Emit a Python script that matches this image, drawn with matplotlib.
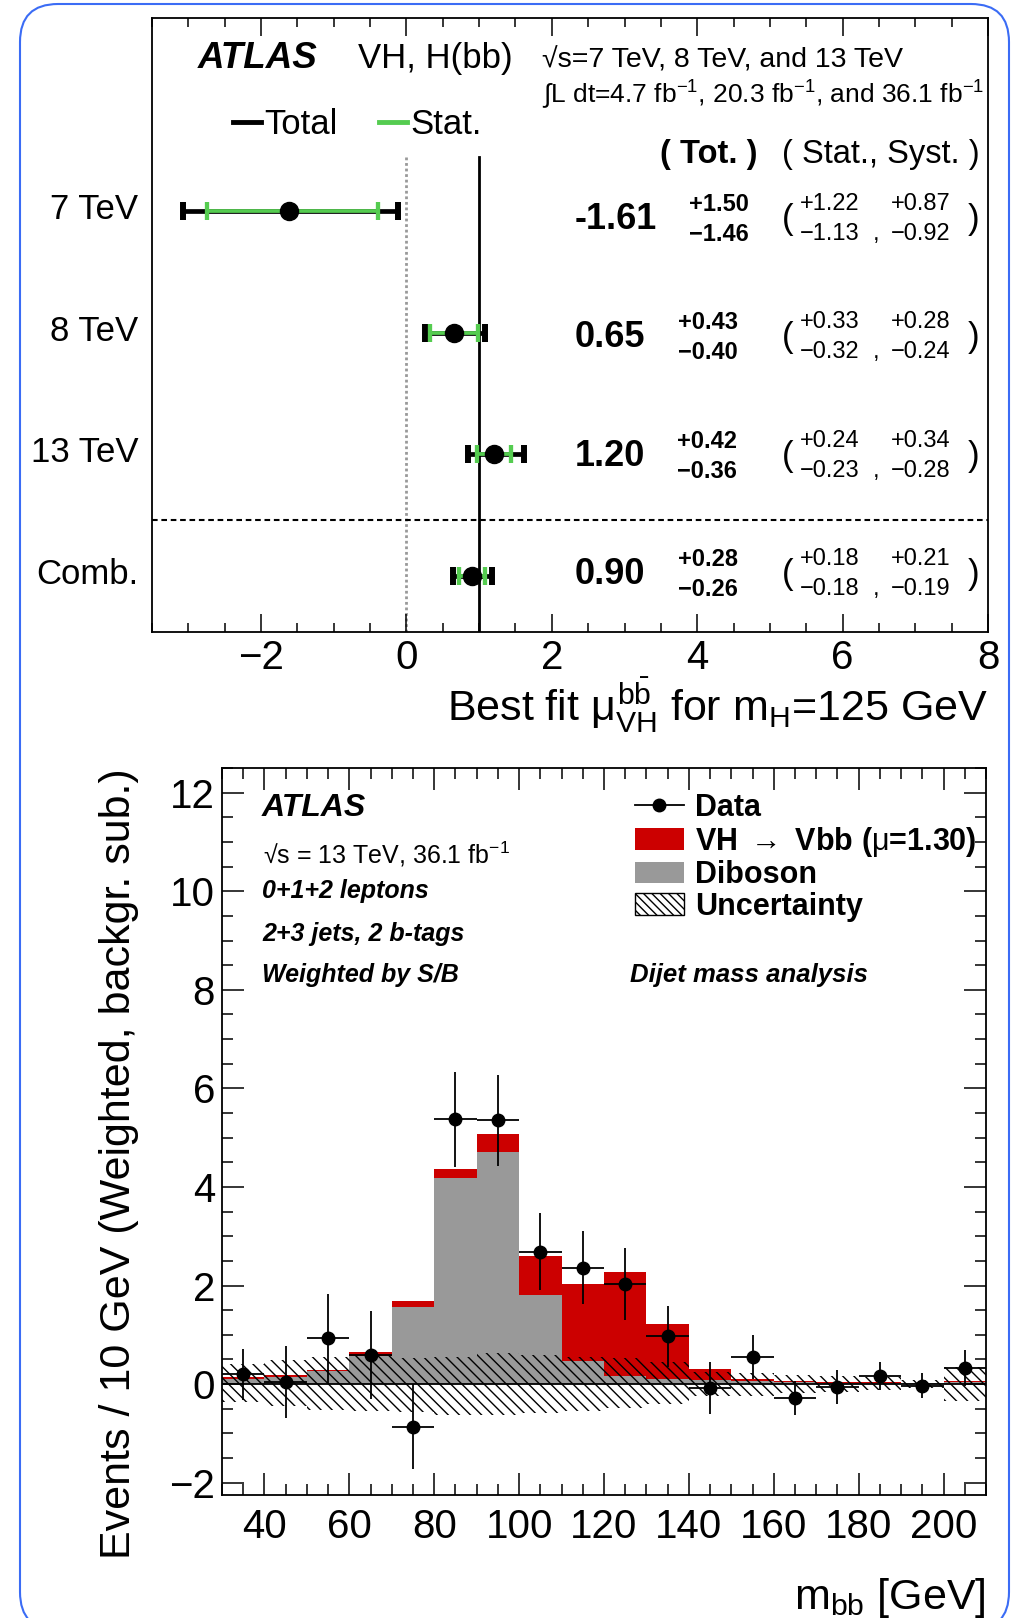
import numpy as np
import matplotlib.pyplot as plt
from matplotlib.lines import Line2D
from matplotlib.patches import Patch, FancyBboxPatch
from matplotlib.ticker import MultipleLocator
from matplotlib.transforms import IdentityTransform, ScaledTranslation

plt.rcParams["font.family"] = ["Liberation Sans", "DejaVu Sans"]
plt.rcParams["mathtext.fontset"] = "custom"
plt.rcParams["mathtext.rm"] = "Liberation Sans"
plt.rcParams["mathtext.it"] = "Liberation Sans"
plt.rcParams["mathtext.bf"] = "Liberation Sans:bold"
plt.rcParams["hatch.linewidth"] = 1.0

# ---- top panel: signal strength per energy
labels = ["7 TeV", "8 TeV", "13 TeV", "Comb."]
mu = [-1.61, 0.65, 1.20, 0.90]
tot_up = [1.50, 0.43, 0.42, 0.28]
tot_dn = [1.46, 0.40, 0.36, 0.26]
stat_up = [1.22, 0.33, 0.24, 0.18]
stat_dn = [1.13, 0.32, 0.23, 0.18]
syst_up = [0.87, 0.28, 0.34, 0.21]
syst_dn = [0.92, 0.24, 0.28, 0.19]
mu_sm = 1.0

# ---- bottom panel: background-subtracted mbb
bin_edges = np.arange(30, 211, 10)
diboson = [0.11, 0.15, 0.26, 0.58, 1.57, 4.18, 4.70, 1.81, 0.46,
           0.16, 0.10, 0.08, 0.06, 0.04, 0.03, 0.03, 0.02, 0.05]
vh = [0.03, 0.03, 0.03, 0.08, 0.11, 0.18, 0.37, 0.78, 1.58,
      2.12, 1.12, 0.22, 0.04, 0.02, 0.02, 0.01, 0.01, 0.02]
unc_up = [0.40, 0.48, 0.56, 0.59, 0.53, 0.56, 0.63, 0.59, 0.55,
          0.53, 0.45, 0.24, 0.22, 0.19, 0.17, 0.14, 0.09, 0.34]
unc_dn = [0.37, 0.45, 0.53, 0.55, 0.57, 0.62, 0.62, 0.59, 0.55,
          0.49, 0.40, 0.24, 0.25, 0.18, 0.15, 0.11, 0.08, 0.35]
data = [0.20, 0.05, 0.93, 0.59, -0.86, 5.37, 5.35, 2.69, 2.36,
        2.04, 0.97, -0.08, 0.55, -0.28, -0.06, 0.16, -0.03, 0.33]
data_err = [0.52, 0.73, 0.90, 0.90, 0.87, 0.97, 0.92, 0.79, 0.74,
            0.73, 0.62, 0.52, 0.45, 0.35, 0.35, 0.28, 0.25, 0.37]

green = "#55cc50"
red = "#cc0000"
grey = "#999999"

fig = plt.figure(figsize=(10.12, 16.18), dpi=100)

# =================== top panel ===================
ax1 = fig.add_axes([0.1502, 0.6094, 0.8261, 0.3795])
rows = np.arange(len(mu), 0, -1)
text_rows = [3.93, 2.96, 1.985, 1.015]   # where the number columns sit
ylo, yhi = 0.54, 5.585
ax1.set_xlim(-3.5, 8)
ax1.set_ylim(ylo, yhi)

line_top = (4.44 - ylo) / (yhi - ylo)
ax1.axvline(mu_sm, ymax=line_top, color="black", lw=2, zorder=2)
ax1.axvline(0, ymax=line_top, color="#999999", lw=2, ls=(0, (1, 1)), zorder=1)
ax1.axhline(1.46, color="black", lw=1.5, ls=(0, (2.7, 1.8)), zorder=1)

ax1.errorbar(mu, rows, xerr=[tot_dn, tot_up], fmt="none", ecolor="black",
             elinewidth=3.4, capsize=6.7, capthick=4.3, zorder=3)
ax1.errorbar(mu, rows, xerr=[stat_dn, stat_up], fmt="none", ecolor=green,
             elinewidth=2.7, capsize=6.7, capthick=3.1, zorder=4)
ax1.plot(mu, rows, "o", color="black", ms=13, zorder=5)

ax1.set_yticks(rows, labels)
ax1.tick_params(axis="y", length=0, pad=10, labelsize=25)
lift = ScaledTranslation(0, 0.05, fig.dpi_scale_trans)
for lab in ax1.get_yticklabels():
    lab.set_transform(lab.get_transform() + lift)
ax1.xaxis.set_major_locator(MultipleLocator(2))
ax1.xaxis.set_minor_locator(MultipleLocator(0.5))
ax1.tick_params(axis="x", which="both", direction="in", top=True,
                labelsize=29, pad=5, width=1.1)
ax1.tick_params(axis="x", which="major", length=13)
ax1.tick_params(axis="x", which="minor", length=6.5)
for s in ax1.spines.values():
    s.set_linewidth(1.3)
ax1.set_xlabel(r"Best fit $\mu^{b\bar{b}}_{VH}$ for m$_{H}$=125 GeV",
               fontsize=31, loc="right", labelpad=-1)

ax1.text(0.055, 0.9332, "ATLAS", fontsize=26.5, weight="bold", style="italic",
         va="center", transform=ax1.transAxes)
ax1.text(0.2464, 0.9332, "VH, H(bb)", fontsize=25, va="center",
         transform=ax1.transAxes)
ax1.text(0.4665, 0.9313, "√s=7 TeV, 8 TeV, and 13 TeV", fontsize=20.5,
         va="center", transform=ax1.transAxes)
ax1.text(0.4665, 0.8754,
         r"$\int$L dt=4.7 fb$^{-1}$, 20.3 fb$^{-1}$, and 36.1 fb$^{-1}$",
         fontsize=19, va="center", transform=ax1.transAxes)

ax1.legend([Line2D([], [], color="black", lw=3.5),
            Line2D([], [], color=green, lw=3.5)],
           ["Total", "Stat."], loc="center left",
           bbox_to_anchor=(0.0969, 0.827), ncol=2, frameon=False,
           fontsize=25, handlelength=0.8, handletextpad=0.1,
           columnspacing=1.2, borderpad=0, borderaxespad=0)

ax1.text(0.608, 0.7769, "( Tot. )", fontsize=23.5, weight="bold",
         va="center", transform=ax1.transAxes)
ax1.text(0.7536, 0.7769, "( Stat., Syst. )", fontsize=23.5,
         va="center", transform=ax1.transAxes)

renderer = fig.canvas.get_renderer()
tr = ax1.get_yaxis_transform()
dy = 0.123
for i, yc in enumerate(text_rows):
    big = ax1.text(0.506, yc, f"{mu[i]:.2f}", fontsize=26, weight="bold",
                   va="center", transform=tr)
    bb = big.get_window_extent(renderer)
    x_pm = ax1.transAxes.inverted().transform((bb.x1 + 32, 0))[0]
    ax1.text(x_pm, yc + dy, f"+{tot_up[i]:.2f}", fontsize=17, weight="bold",
             va="center", transform=tr)
    ax1.text(x_pm, yc - dy, f"\u2212{tot_dn[i]:.2f}", fontsize=17,
             weight="bold", va="center", transform=tr)
    ax1.text(0.7536, yc, "(", fontsize=25, va="center", transform=tr)
    ax1.text(0.7750, yc + dy, f"+{stat_up[i]:.2f}", fontsize=17,
             va="center", transform=tr)
    ax1.text(0.7750, yc - dy, f"\u2212{stat_dn[i]:.2f}", fontsize=17,
             va="center", transform=tr)
    ax1.text(0.8624, yc - dy, ",", fontsize=17, va="center", transform=tr)
    ax1.text(0.8840, yc + dy, f"+{syst_up[i]:.2f}", fontsize=17,
             va="center", transform=tr)
    ax1.text(0.8840, yc - dy, f"\u2212{syst_dn[i]:.2f}", fontsize=17,
             va="center", transform=tr)
    ax1.text(0.9761, yc, ")", fontsize=25, va="center", transform=tr)

# =================== bottom panel ===================
ax2 = fig.add_axes([0.2194, 0.0760, 0.7549, 0.4493])
lo_edges = bin_edges[:-1]
centers = lo_edges + 5
ax2.bar(lo_edges, diboson, width=10, align="edge", color=grey, lw=0,
        zorder=1)
ax2.bar(lo_edges, vh, bottom=diboson, width=10, align="edge", color=red,
        lw=0, zorder=1)
ax2.bar(lo_edges, np.add(unc_up, unc_dn), bottom=-np.array(unc_dn),
        width=10, align="edge", fill=False, hatch="\\\\\\",
        edgecolor="black", lw=0, zorder=2)
ax2.axhline(0, color="black", lw=1.3, zorder=3)
ax2.errorbar(centers, data, yerr=data_err, xerr=5, fmt="o", color="black",
             ms=9, elinewidth=1.3, capsize=0, zorder=4)

ax2.set_xlim(30, 210)
ax2.set_ylim(-2.25, 12.5)
ax2.xaxis.set_major_locator(MultipleLocator(20))
ax2.xaxis.set_minor_locator(MultipleLocator(5))
ax2.yaxis.set_major_locator(MultipleLocator(2))
ax2.yaxis.set_minor_locator(MultipleLocator(0.5))
ax2.tick_params(which="both", direction="in", top=True, right=True,
                width=1.1, labelsize=29)
ax2.tick_params(which="major", length=16)
ax2.tick_params(which="minor", length=8)
ax2.tick_params(axis="x", pad=9)
ax2.tick_params(axis="y", pad=5)
for s in ax2.spines.values():
    s.set_linewidth(1.3)
ax2.set_ylabel("Events / 10 GeV (Weighted, backgr. sub.)", fontsize=31,
               loc="top", labelpad=22)
ax2.set_xlabel(r"m$_{bb}$ [GeV]", fontsize=31, loc="right", labelpad=22)

ax2.text(0.0524, 0.9448, "ATLAS", fontsize=23, weight="bold",
         style="italic", va="center", transform=ax2.transAxes)
ax2.text(0.0537, 0.882, r"√s = 13 TeV, 36.1 fb$^{-1}$", fontsize=18,
         va="center", transform=ax2.transAxes)
ax2.text(0.0524, 0.8306, "0+1+2 leptons", fontsize=18, weight="bold",
         style="italic", va="center", transform=ax2.transAxes)
ax2.text(0.0524, 0.7714, "2+3 jets, 2 b-tags", fontsize=18, weight="bold",
         style="italic", va="center", transform=ax2.transAxes)
ax2.text(0.0524, 0.715, "Weighted by S/B", fontsize=18, weight="bold",
         style="italic", va="center", transform=ax2.transAxes)
ax2.text(0.534, 0.715, "Dijet mass analysis", fontsize=18.5, weight="bold",
         style="italic", va="center", transform=ax2.transAxes)

handles2 = [Line2D([], [], color="black", marker="o", ms=9, lw=1.3),
            Patch(facecolor=red),
            Patch(facecolor=grey),
            Patch(facecolor="white", edgecolor="black", hatch="\\\\\\\\",
                  lw=1)]
labels2 = ["Data", r"VH $\rightarrow$ Vbb ($\mu$=1.30)", "Diboson",
           "Uncertainty"]
ax2.legend(handles2, labels2, loc="upper left",
           bbox_to_anchor=(0.5406, 0.9655), frameon=False,
           prop={"weight": "bold", "size": 22}, handlelength=1.6,
           handleheight=0.72, handletextpad=0.36, labelspacing=0.05,
           borderpad=0, borderaxespad=0)

# rounded blue frame around the whole picture
border = FancyBboxPatch((20, -12), 989, 1626,
                        boxstyle="round,pad=0,rounding_size=38",
                        transform=IdentityTransform(), fill=False,
                        edgecolor="#3b6cf5", lw=1.5)
fig.add_artist(border)

fig.savefig("out.png", dpi=100)
